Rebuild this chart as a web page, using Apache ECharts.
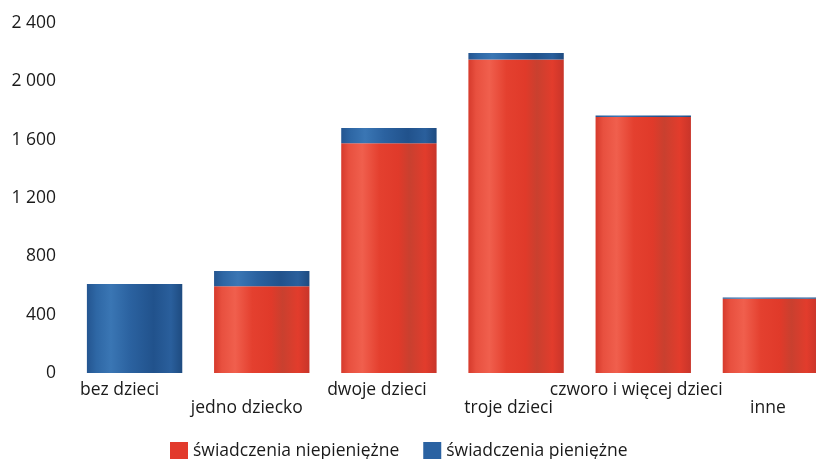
<!DOCTYPE html>
<html>
<head>
<meta charset="utf-8">
<script src="https://cdn.jsdelivr.net/npm/echarts@6/dist/echarts.min.js"></script>
<style>
html,body{margin:0;padding:0;background:#fff;overflow:hidden;width:816px;height:459px;}
#c{width:834px;height:459px;}
</style>
</head>
<body>
<div id="c"></div>
<script>
const categories = ['bez dzieci', 'jedno dziecko', 'dwoje dzieci', 'troje dzieci', 'czworo i więcej dzieci', 'inne'];
const seriesNames = ['świadczenia niepieniężne', 'świadczenia pieniężne'];
const niepieniezne = [0, 595, 1575, 2150, 1755, 510];
const pieniezne = [610, 105, 105, 45, 10, 8];
const yTicks = [0, 400, 800, 1200, 1600, 2000, 2400];

const FONT = '"Open Sans", "DejaVu Sans", sans-serif';
const labelShift = [30, 30, 24, 15, 14, 5];

function grad(stops) {
  return new echarts.graphic.LinearGradient(0, 0, 1, 0, stops.map(c => ({offset: c[0], color: c[1]})));
}
const redGrad = grad([[0,'#d63a2c'],[0.08,'#e8503f'],[0.22,'#f05f4d'],[0.4,'#e4402f'],[0.6,'#e03a2a'],[0.72,'#c9402f'],[0.88,'#e23c2c'],[1,'#c8352a']]);
const blueGrad = grad([[0,'#245590'],[0.1,'#2e67a5'],[0.25,'#3a76b4'],[0.45,'#2b62a0'],[0.7,'#21528c'],[0.88,'#2a5f9c'],[1,'#1e4b80']]);

const rich = {};
labelShift.forEach((s, i) => { rich['s' + i] = {padding: [0, s, 0, 0], fontSize: 17.5, fontFamily: FONT, color: '#1a1a1a', lineHeight: 18}; });

const chart = echarts.init(document.getElementById('c'), null, {renderer: 'canvas'});
chart.setOption({
  animation: false,
  backgroundColor: '#ffffff',
  grid: {left: 71, right: 0, top: 23, bottom: 86, containLabel: false},
  legend: {
    left: 165, top: 437,
    itemWidth: 18, itemHeight: 18, itemGap: 24,
    icon: 'rect',
    textStyle: {fontSize: 17.5, fontFamily: FONT, color: '#1a1a1a'},
    data: [
      {name: seriesNames[0], itemStyle: {color: '#e23a2c'}},
      {name: seriesNames[1], itemStyle: {color: '#2a62a2'}}
    ]
  },
  xAxis: {
    type: 'category',
    data: categories,
    axisLine: {show: false},
    axisTick: {show: false},
    axisLabel: {
      interval: 0, margin: 8, lineHeight: 18,
      fontSize: 17.5, fontFamily: FONT, color: '#1a1a1a',
      formatter: (v, i) => (i % 2 === 1 ? '\n' : '') + '{s' + i + '|' + v + '}',
      rich: rich
    }
  },
  yAxis: {
    type: 'value',
    min: yTicks[0], max: yTicks[yTicks.length - 1], interval: 400,
    axisLine: {show: false},
    axisTick: {show: false},
    splitLine: {show: false},
    axisLabel: {
      margin: 15, fontSize: 17.5, fontFamily: FONT, color: '#1a1a1a',
      formatter: v => String(v).replace(/\B(?=(\d{3})+(?!\d))/g, ' ')
    }
  },
  series: [
    {name: seriesNames[0], type: 'bar', stack: 's', data: niepieniezne, barWidth: '75%',
     itemStyle: {color: redGrad}},
    {name: seriesNames[1], type: 'bar', stack: 's', data: pieniezne, barWidth: '75%',
     itemStyle: {color: blueGrad}}
  ]
});
</script>
</body>
</html>
